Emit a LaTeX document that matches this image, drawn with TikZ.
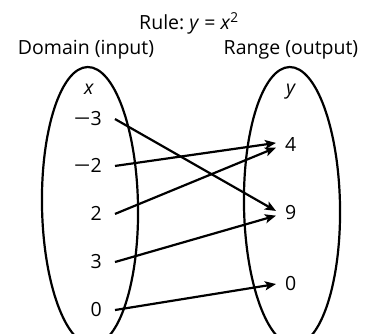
\documentclass[tikz,border=0pt]{standalone}
\usepackage{fontspec}
\setmainfont{Open Sans}
\usepackage{tikz}
\usetikzlibrary{arrows.meta}
\newcommand{\mns}{\scalebox{1.5}[1]{−}}

\begin{document}
\begin{tikzpicture}[x=1pt,y=-1pt,
    every node/.style={font=\fontsize{19.5pt}{23pt}\selectfont},
    oval/.style={line width=2.2pt},
    inval/.style={anchor=base east,inner xsep=13pt},
    outval/.style={anchor=base west,inner xsep=9pt},
    maps/.style={line width=2.2pt,-{Stealth[length=11pt,width=9pt,inset=2.5pt]}}]
  \useasboundingbox (0,0) rectangle (368,334);
  \clip (0,0) rectangle (368,334);
  % headings
  \node[anchor=base] (rule) at (189,30) {Rule:\ \textit{y} = \textit{x}\textsuperscript{2}};
  \node[anchor=base] (dom) at (86,55) {Domain (input)};
  \node[anchor=base] (ran) at (291,55) {Range (output)};
  % the two sets
  \draw[oval,rotate around={1:(90,206)}] (90,206) ellipse [x radius=48,y radius=139];
  \draw[oval,rotate around={1:(292,206)}] (292,206) ellipse [x radius=48,y radius=139];
  \node[anchor=base] (xlab) at (89,95) {\textit{x}};
  \node[anchor=base] (ylab) at (291,95) {\textit{y}};
  % inputs
  \node[inval] (xm3) at (115,126) {\mns3};
  \node[inval] (xm2) at (115,173) {\mns2};
  \node[inval] (xp2) at (115,221) {2};
  \node[inval] (xp3) at (115,269) {3};
  \node[inval] (x0) at (115,317) {0};
  % outputs
  \node[outval] (y4) at (276,152) {4};
  \node[outval] (y9) at (276,220) {9};
  \node[outval] (y0) at (276,291) {0};
  % rule arrows
  \draw[maps] (xm3.east) -- (y9.172);
  \draw[maps] (xm2.east) -- (y4.172);
  \draw[maps] (xp2.east) -- (y4.190);
  \draw[maps] (xp3.east) -- (y9.190);
  \draw[maps] (x0.east) -- (y0.west);
\end{tikzpicture}
\end{document}
